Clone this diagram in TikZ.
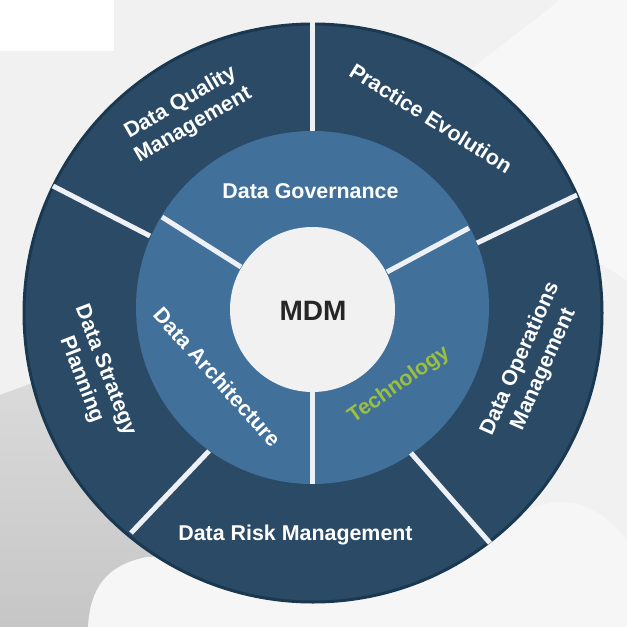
\documentclass[tikz,border=0pt]{standalone}
\usepackage{fontspec}
\setmainfont{Liberation Sans}
\definecolor{backgrey}{HTML}{F1F1F1}
\definecolor{shouldertop}{HTML}{DADADA}
\definecolor{shoulderlow}{HTML}{C6C6C6}
\definecolor{shirtwhite}{HTML}{F6F6F6}
\definecolor{outerblue}{HTML}{2B4A66}
\definecolor{outerrim}{HTML}{1A3850}
\definecolor{middleblue}{HTML}{41709B}
\definecolor{spokewhite}{HTML}{EDF1F5}
\definecolor{techgreen}{HTML}{9BBF3F}
\tikzset{
  ringlabel/.style={text=white, font=\bfseries\fontsize{21.4}{25.5}\selectfont, align=center, inner sep=0pt},
  spoke/.style={draw=spokewhite, line width=5pt},
  disc/.style={circle, inner sep=0pt, outer sep=0pt}
}

\begin{document}
\begin{tikzpicture}[x=1pt,y=-1pt]
  \useasboundingbox (0,0) rectangle (627,627);

  % backdrop
  \fill[backgrey] (0,0) rectangle (627,627);
  \fill[white] (0,0) rectangle (114,51);
  \fill[black!3] (470,70) -- (560,0) -- (627,0) -- (627,280) -- (560,240) -- cycle;
  \shade[top color=shouldertop, bottom color=shoulderlow] (0,395) -- (35,382) -- (320,382) -- (320,627) -- (0,627) -- cycle;
  \fill[shirtwhite] (88,627) .. controls (90,590) and (105,565) .. (147,557) -- (480,540) .. controls (530,500) and (580,480) .. (627,540) -- (627,627) -- cycle;

  % rings
  \node (outerring) [disc, fill=outerblue, draw=outerrim, line width=3pt, minimum size=578pt] at (313,313) {};
  \node (middlering) [disc, fill=middleblue, minimum size=353pt] at (312.5,307.5) {};
  \node (hub) [disc, fill=backgrey, minimum size=165pt] at (312.5,309.5) {};
  \node (mdm) [text=black!85, font=\bfseries\fontsize{28}{30}\selectfont, inner sep=0pt] at (313,311) {MDM};

  % spoke ends
  \coordinate (topa) at (312.5,22);
  \coordinate (topb) at (312.5,131);
  \coordinate (ula) at (53,186);
  \coordinate (ulb) at (150,236);
  \coordinate (ura) at (577,195);
  \coordinate (urb) at (477,243);
  \coordinate (lla) at (131,533);
  \coordinate (llb) at (209,451);
  \coordinate (lra) at (490,543);
  \coordinate (lrb) at (411,453);
  \coordinate (ina) at (162,217);
  \coordinate (inb) at (241,267);
  \coordinate (inc) at (469,228);
  \coordinate (ind) at (387,272);
  \coordinate (ine) at (312.5,392);
  \coordinate (inf) at (312.5,484);

  \draw[spoke] (topa) to (topb);
  \draw[spoke] (ula) to (ulb);
  \draw[spoke] (ura) to (urb);
  \draw[spoke] (lla) to (llb);
  \draw[spoke] (lra) to (lrb);
  \draw[spoke] (ina) to (inb);
  \draw[spoke] (inc) to (ind);
  \draw[spoke] (ine) to (inf);

  % labels
  \node (quality) [ringlabel, rotate=30] at (187,114) {Data Quality\\ Management};
  \node (practice) [ringlabel, rotate=-32] at (431,118) {Practice Evolution};
  \node (operations) [ringlabel, rotate=66] at (532,364) {Data Operations\\ Management};
  \node (strategy) [ringlabel, rotate=-69] at (93,375) {Data Strategy\\ Planning};
  \node (risk) [ringlabel] at (295.5,535) {Data Risk Management};
  \node (governance) [ringlabel] at (310.5,191) {Data Governance};
  \node (architecture) [ringlabel, rotate=-48] at (217.5,377) {Data Architecture};
  \node (technology) [ringlabel, text=techgreen, rotate=35] at (399,385) {Technology};
\end{tikzpicture}
\end{document}
